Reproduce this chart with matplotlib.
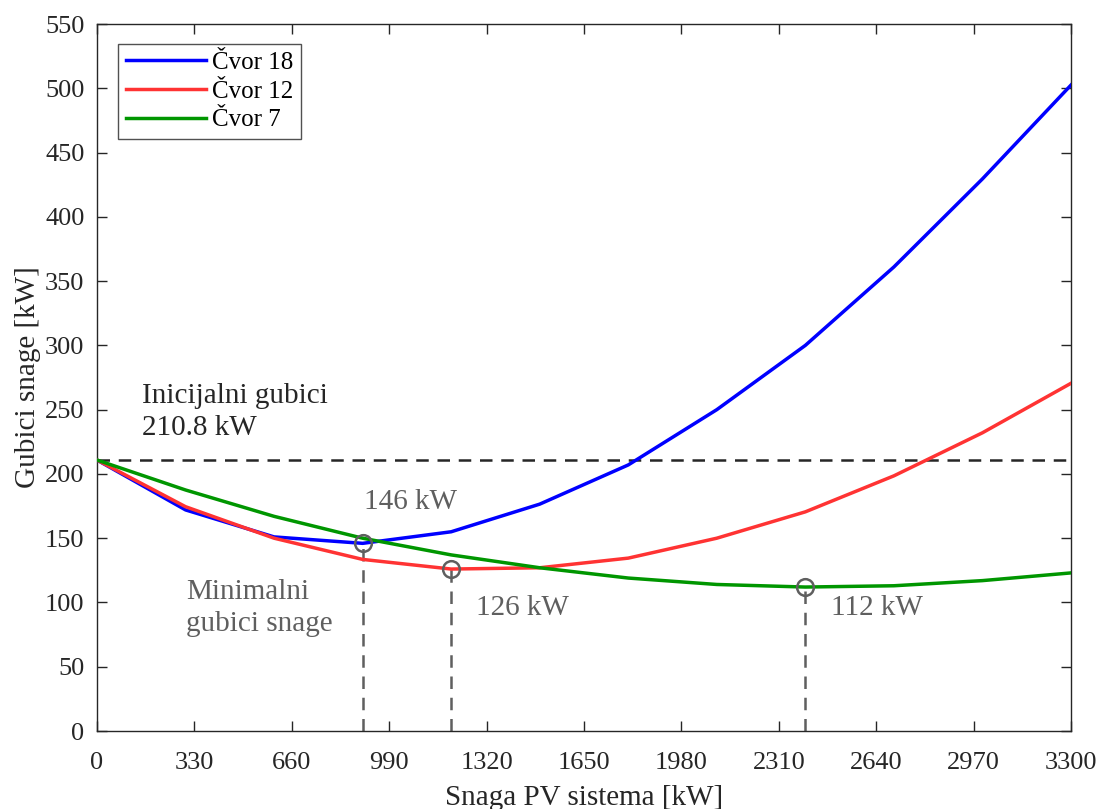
import matplotlib.pyplot as plt

# snaga PV sistema [kW]
pv = [0, 300, 600, 900, 1200, 1500, 1800, 2100, 2400, 2700, 3000, 3300]

# gubici snage [kW] za svaki cvor
cvor18 = [210.8, 172, 151, 146, 155, 176.5, 207, 250, 300, 361, 429.5, 502.5]
cvor12 = [210.8, 174.5, 150, 133.5, 126, 127, 134.5, 150, 170.5, 198.5, 232, 270.5]
cvor7 = [210.8, 187.5, 167, 150, 137, 127, 119, 114, 112, 113, 117, 123]

init_loss = 210.8
min_x = [900, 1200, 2400]
min_y = [146, 126, 112]
min_labels = ["146 kW", "126 kW", "112 kW"]

plt.rcParams['font.family'] = ['Liberation Serif', 'DejaVu Serif']
plt.rcParams['font.size'] = 19

fig = plt.figure(figsize=(11, 8.09), dpi=100)
ax = fig.add_axes([0.0882, 0.0964, 0.8854, 0.8739])

ax.plot(pv, cvor18, color='#0000ff', lw=2.5, label='Čvor 18', zorder=3)
ax.plot(pv, cvor12, color='#ff3333', lw=2.5, label='Čvor 12', zorder=3)
ax.plot(pv, cvor7, color='#009600', lw=2.5, label='Čvor 7', zorder=3)

ax.axhline(init_loss, color='#262626', lw=1.8, ls=(0, (5, 3.5)), zorder=2)

gray = '#5f5f5f'
for x, y in zip(min_x, min_y):
    ax.plot([x, x], [0, y], color=gray, lw=1.8, ls=(0, (5, 3.5)), zorder=2)
ax.plot(min_x, min_y, 'o', ms=12, mfc='none', mec=gray, mew=1.8, zorder=4)

ax.text(152, 248, "Inicijalni gubici\n210.8 kW", color='#262626',
        va='center', ha='left', linespacing=1.3, fontsize=21)
ax.text(905, 178, min_labels[0], color=gray, va='center', ha='left', fontsize=21)
ax.text(1284, 96, min_labels[1], color=gray, va='center', ha='left', fontsize=21)
ax.text(2487, 96, min_labels[2], color=gray, va='center', ha='left', fontsize=21)
ax.text(301, 96, "Minimalni\ngubici snage", color=gray, va='center',
        ha='left', linespacing=1.3, fontsize=21)

ax.set_xlim(0, 3300)
ax.set_ylim(0, 550)
ax.set_xticks(range(0, 3301, 330))
ax.set_yticks(range(0, 551, 50))
ax.tick_params(direction='in', top=True, right=True, length=7.5,
               width=1, colors='#262626', labelcolor='#262626')
ax.tick_params(axis='x', pad=15)
ax.tick_params(axis='y', pad=9)
for s in ax.spines.values():
    s.set_color('#262626')
    s.set_linewidth(1)

ax.set_xlabel("Snaga PV sistema [kW]", color='#262626', fontsize=21, labelpad=8)
ax.set_ylabel("Gubici snage [kW]", color='#262626', fontsize=21, labelpad=3)

leg = ax.legend(loc='upper left', bbox_to_anchor=(0.022, 0.972),
                fancybox=False, handlelength=3.2, handletextpad=0.25,
                borderpad=0.3, labelspacing=0.25, borderaxespad=0, fontsize=18)
leg.get_frame().set_edgecolor('#262626')
leg.get_frame().set_linewidth(1)

fig.savefig("out.png", dpi=100)
